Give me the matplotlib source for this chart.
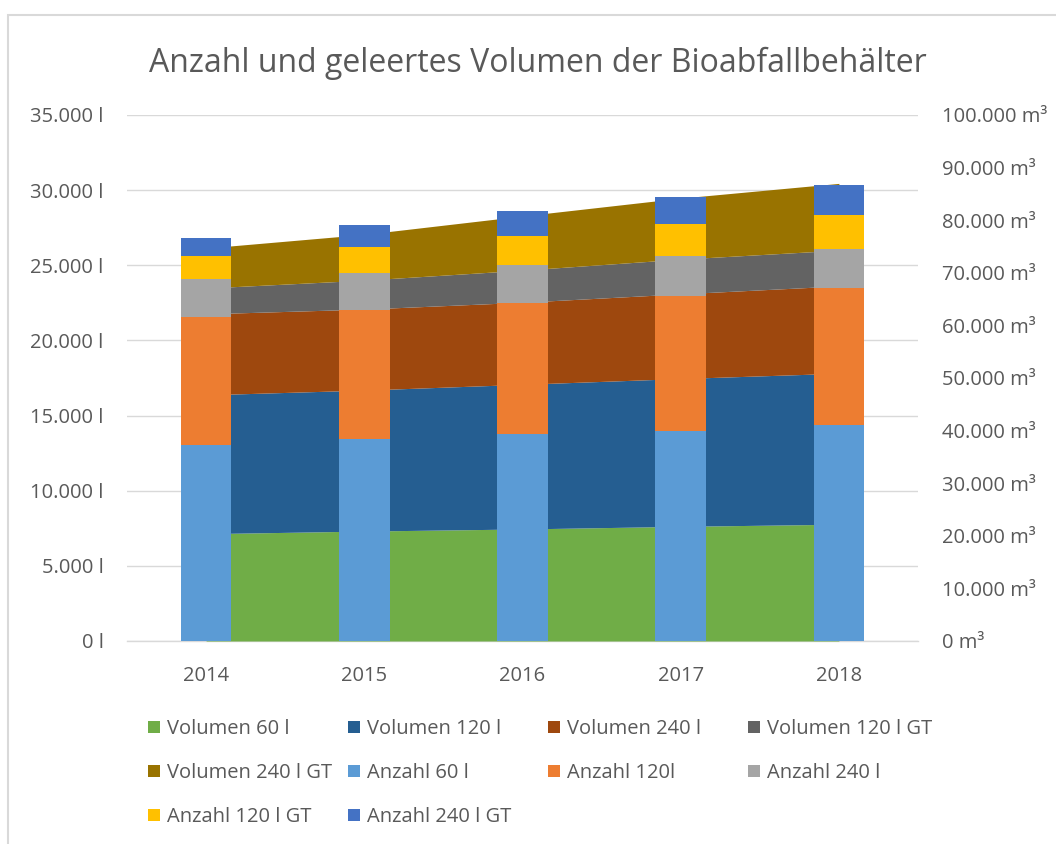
import matplotlib
matplotlib.use("Agg")
import matplotlib.pyplot as plt
import numpy as np
from matplotlib.patches import Patch, Rectangle
from matplotlib.ticker import FuncFormatter, MultipleLocator

# ---------------- data ----------------
years = ["2014", "2015", "2016", "2017", "2018"]

# Anzahl (left axis, l) - stacked bars
anzahl_60 = [13040, 13420, 13750, 13970, 14350]
anzahl_120 = [8540, 8600, 8760, 8990, 9120]
anzahl_240 = [2490, 2470, 2490, 2640, 2630]
anzahl_120gt = [1530, 1710, 1970, 2150, 2220]
anzahl_240gt = [1190, 1460, 1620, 1770, 2040]

# Volumen (right axis, m³) - stacked areas
vol_60 = [20400, 20900, 21300, 21800, 22200]
vol_120 = [26400, 26800, 27500, 28100, 28700]
vol_240 = [15400, 15400, 15600, 16100, 16600]
vol_120gt = [4900, 5500, 6100, 6600, 6800]
vol_240gt = [7600, 8700, 10300, 11600, 12700]

vol_labels = ["Volumen 60 l", "Volumen 120 l", "Volumen 240 l",
              "Volumen 120 l GT", "Volumen 240 l GT"]
anz_labels = ["Anzahl 60 l", "Anzahl 120l", "Anzahl 240 l",
              "Anzahl 120 l GT", "Anzahl 240 l GT"]

vol_colors = ["#70AD47", "#255E91", "#9E480E", "#636363", "#997300"]
anz_colors = ["#5B9BD5", "#ED7D31", "#A5A5A5", "#FFC000", "#4472C4"]

TXT = "#595959"
GRID = "#D9D9D9"
plt.rcParams["font.family"] = ["Open Sans", "DejaVu Sans"]

W, H = 1056, 844
fig = plt.figure(figsize=(W / 100, H / 100), dpi=100)
fig.patch.set_facecolor("white")

# chart frame
fig.add_artist(Rectangle((8 / W, -0.1), 1.2, 1 - 15 / H + 0.1, transform=fig.transFigure,
                         fill=False, edgecolor="#D9D9D9", linewidth=1.5))

left, right, bottom, top = 127 / W, 918 / W, 1 - 641 / H, 1 - 115 / H
rect = [left, bottom, right - left, top - bottom]

x = np.arange(len(years))

# background axes: grid + left axis labels
ax = fig.add_axes(rect)
ax.set_xlim(-0.5, len(years) - 0.5)
ax.set_ylim(0, 35000)
ax.yaxis.set_major_locator(MultipleLocator(5000))
ax.yaxis.set_major_formatter(FuncFormatter(lambda v, p: f"{v:,.0f}".replace(",", ".") + " l"))
ax.grid(axis="y", color=GRID, linewidth=1.0)
ax.set_axisbelow(True)
for s in ["top", "left", "right"]:
    ax.spines[s].set_visible(False)
ax.spines["bottom"].set_color(GRID)
ax.spines["bottom"].set_linewidth(1.0)
ax.set_xticks(x)
ax.set_xticklabels(years)
ax.tick_params(axis="y", length=0, pad=17, labelsize=14.5, labelcolor=TXT)
ax.tick_params(axis="x", length=0, pad=18, labelsize=14.5, labelcolor=TXT)
ax.set_zorder(0)

# areas on secondary axis
ax2 = ax.twinx()
ax2.set_ylim(0, 100000)
ax2.yaxis.set_major_locator(MultipleLocator(10000))
ax2.yaxis.set_major_formatter(FuncFormatter(lambda v, p: f"{v:,.0f}".replace(",", ".") + " m³"))
ax2.tick_params(axis="y", length=0, pad=17, labelsize=14.5, labelcolor=TXT)
for s in ax2.spines.values():
    s.set_visible(False)
vols = [vol_60, vol_120, vol_240, vol_120gt, vol_240gt]
base = np.zeros(len(years))
for vals, col, lab in zip(vols, vol_colors, vol_labels):
    v = np.array(vals, dtype=float)
    ax2.fill_between(x, base, base + v, color=col, linewidth=0, label=lab)
    base = base + v
ax2.set_zorder(1)

# bars on top
ax3 = fig.add_axes(rect, sharex=ax, sharey=ax)
ax3.axis("off")
anz = [anzahl_60, anzahl_120, anzahl_240, anzahl_120gt, anzahl_240gt]
bbase = np.zeros(len(years))
for vals, col, lab in zip(anz, anz_colors, anz_labels):
    v = np.array(vals, dtype=float)
    ax3.bar(x, v, bottom=bbase, width=0.32, color=col, linewidth=0, label=lab)
    bbase = bbase + v
ax3.set_zorder(2)

# title
fig.text(538 / W, 1 - 63 / H, "Anzahl und geleertes Volumen der Bioabfallbehälter",
         ha="center", va="center", fontsize=23, color=TXT)

# legend: row-wise order, 4 columns at fixed positions
all_labels = vol_labels + anz_labels
all_colors = vol_colors + anz_colors
col_x = [148, 348, 548, 748]
ncol = 4
for c in range(ncol):
    idx = list(range(c, len(all_labels), ncol))
    handles = [Patch(facecolor=all_colors[i], edgecolor="none") for i in idx]
    labels = [all_labels[i] for i in idx]
    fig.legend(handles, labels, loc="upper left",
               bbox_to_anchor=(col_x[c] / W, 1 - 719 / H),
               frameon=False, fontsize=14.5, labelcolor=TXT,
               handlelength=0.58, handleheight=0.58, handletextpad=0.35,
               labelspacing=1.2, borderpad=0, borderaxespad=0)

fig.savefig("out.png", dpi=100, facecolor="white")
